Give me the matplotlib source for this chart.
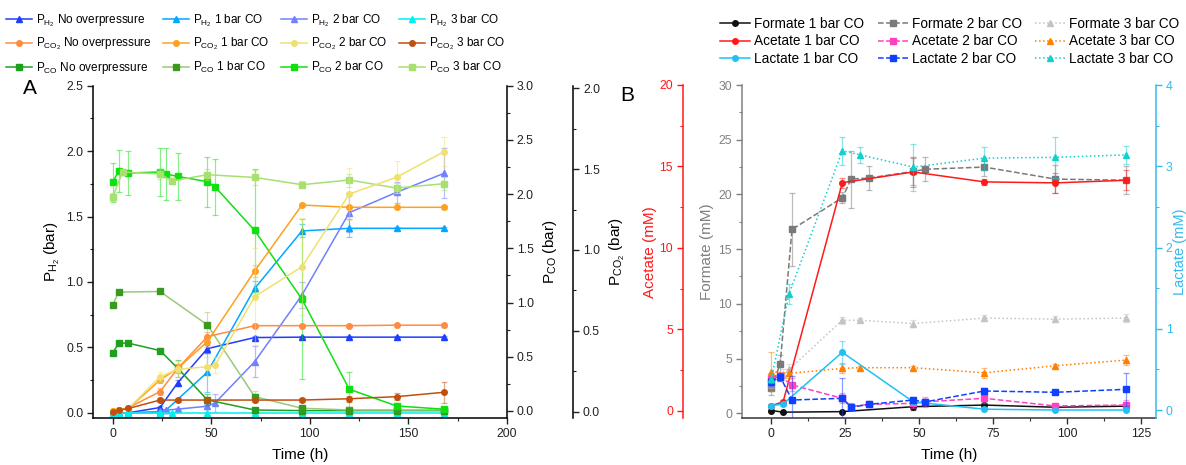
import matplotlib
matplotlib.use('Agg')
import matplotlib.pyplot as plt
from matplotlib.ticker import MultipleLocator, FormatStrFormatter

plt.rcParams['font.family'] = ['Liberation Sans', 'DejaVu Sans']
plt.rcParams['mathtext.fontset'] = 'custom'
plt.rcParams['mathtext.rm'] = 'Liberation Sans'
plt.rcParams['mathtext.it'] = 'Liberation Sans:italic'
plt.rcParams['mathtext.bf'] = 'Liberation Sans:bold'

# ---------------- Panel A data (pressure, bar) ----------------
# P_H2 (left axis)
h2_no_t = [0, 3, 8, 24, 33, 48, 72, 96, 120, 144, 168]
h2_no_v = [0.0, 0.0, 0.0, 0.04, 0.23, 0.49, 0.575, 0.578, 0.578, 0.578, 0.578]
h2_no_e = [0, 0, 0, 0.01, 0.02, 0.03, 0.01, 0.01, 0.01, 0.01, 0.01]

h2_1_t = [0, 3, 8, 24, 27, 48, 72, 96, 120, 144, 168]
h2_1_v = [0.0, 0.0, 0.0, 0.0, 0.02, 0.31, 0.95, 1.39, 1.41, 1.41, 1.41]
h2_1_e = [0, 0, 0, 0, 0.01, 0.15, 0.06, 0.05, 0.07, 0.01, 0.01]

h2_2_t = [0, 3, 8, 24, 27, 33, 48, 52, 72, 96, 120, 144, 168]
h2_2_v = [0.0, 0.0, 0.0, 0.01, 0.02, 0.028, 0.05, 0.076, 0.39, 0.90, 1.53, 1.685, 1.83]
h2_2_e = [0, 0, 0, 0.01, 0.01, 0.01, 0.02, 0.07, 0.12, 0.10, 0.15, 0.08, 0.19]

h2_3_t = [0, 3, 8, 24, 30, 48, 72, 96, 120, 144, 168]
h2_3_v = [0.0, 0.0, 0.0, 0.0, 0.0, 0.0, 0.0, 0.0, 0.0, 0.0, 0.0]
h2_3_e = [0, 0, 0, 0, 0, 0, 0, 0, 0, 0, 0]

# P_CO2 (second right axis)
co2_no_t = [0, 3, 8, 24, 33, 48, 72, 96, 120, 144, 168]
co2_no_v = [0.004, 0.01, 0.025, 0.124, 0.268, 0.464, 0.532, 0.532, 0.532, 0.535, 0.535]
co2_no_e = [0, 0, 0, 0.02, 0.03, 0.03, 0.01, 0.01, 0.01, 0.01, 0.01]

co2_1_t = [0, 3, 8, 24, 33, 48, 72, 96, 120, 144, 168]
co2_1_v = [0.004, 0.01, 0.02, 0.196, 0.268, 0.433, 0.870, 1.278, 1.264, 1.264, 1.264]
co2_1_e = [0, 0, 0, 0.02, 0.03, 0.03, 0.04, 0.01, 0.01, 0.01, 0.01]

co2_2_t = [0, 3, 8, 24, 33, 48, 52, 72, 96, 120, 144, 168]
co2_2_v = [0.0, 0.01, 0.02, 0.216, 0.262, 0.278, 0.289, 0.711, 0.897, 1.346, 1.450, 1.608]
co2_2_e = [0, 0, 0, 0.03, 0.05, 0.06, 0.05, 0.30, 0.30, 0.16, 0.10, 0.09]

co2_3_t = [0, 3, 8, 24, 33, 48, 72, 96, 120, 144, 168]
co2_3_v = [0.0, 0.01, 0.02, 0.072, 0.072, 0.072, 0.072, 0.072, 0.08, 0.093, 0.12]
co2_3_e = [0, 0, 0, 0.01, 0.01, 0.01, 0.01, 0.01, 0.02, 0.02, 0.065]

# P_CO (first right axis)
co_no_t = [0, 3, 8, 24, 33, 48, 72, 96, 120, 144, 168]
co_no_v = [0.533, 0.625, 0.625, 0.557, 0.394, 0.102, 0.009, 0.003, 0.003, 0.003, 0.003]
co_no_e = [0.01, 0.01, 0.01, 0.02, 0.08, 0.05, 0.02, 0.01, 0.01, 0.01, 0.01]

co_1_t = [0, 3, 24, 48, 72, 96, 120, 144, 168]
co_1_v = [0.979, 1.096, 1.102, 0.794, 0.132, 0.025, 0.009, 0.009, 0.009]
co_1_e = [0.01, 0.01, 0.02, 0.12, 0.05, 0.03, 0.01, 0.01, 0.01]

co_2_t = [0, 3, 8, 24, 27, 33, 48, 52, 72, 96, 120, 144, 168]
co_2_v = [2.108, 2.213, 2.195, 2.204, 2.186, 2.163, 2.115, 2.066, 1.665, 1.031, 0.200, 0.046, 0.016]
co_2_e = [0.18, 0.19, 0.20, 0.22, 0.24, 0.22, 0.23, 0.26, 0.57, 0.74, 0.16, 0.03, 0.01]

co_3_t = [0, 5, 24, 30, 48, 72, 96, 120, 144, 168]
co_3_v = [1.973, 2.204, 2.186, 2.121, 2.179, 2.154, 2.087, 2.130, 2.056, 2.096]
co_3_e = [0.04, 0.03, 0.05, 0.03, 0.05, 0.07, 0.03, 0.06, 0.05, 0.06]

# ---------------- Panel B data (mM) ----------------
form_1_t = [0, 4, 24, 48, 72, 96, 120]
form_1_v = [0.25, 0.1, 0.15, 0.6, 0.75, 0.55, 0.65]
form_1_e = [0.1, 0.05, 0.05, 0.3, 0.2, 0.2, 0.2]

form_2_t = [0, 3, 7, 24, 27, 33, 48, 52, 72, 96, 120]
form_2_v = [2.3, 4.5, 16.8, 19.7, 21.4, 21.5, 22.1, 22.3, 22.5, 21.4, 21.3]
form_2_e = [0.6, 0.8, 3.3, 0.5, 2.6, 1.1, 1.2, 1.1, 0.8, 1.3, 1.3]

form_3_t = [0, 4, 6, 24, 30, 48, 72, 96, 120]
form_3_v = [2.8, 3.5, 4.0, 8.5, 8.5, 8.2, 8.7, 8.6, 8.7]
form_3_e = [0.5, 0.5, 0.5, 0.3, 0.2, 0.3, 0.3, 0.3, 0.4]

acet_1_t = [0, 4, 24, 48, 72, 96, 120]
acet_1_v = [0.3, 0.55, 14.0, 14.66, 14.05, 13.99, 14.15]
acet_1_e = [0.1, 0.1, 0.3, 0.9, 0.2, 0.6, 0.6]

acet_2_t = [0, 3, 7, 24, 27, 33, 48, 52, 72, 96, 120]
acet_2_v = [2.0, 2.1, 1.58, 0.76, 0.25, 0.39, 0.45, 0.55, 0.76, 0.29, 0.35]
acet_2_e = [0.3, 0.3, 0.4, 0.3, 0.2, 0.1, 0.3, 0.3, 0.3, 0.2, 0.3]

acet_3_t = [0, 6, 24, 30, 48, 72, 96, 120]
acet_3_v = [2.39, 2.29, 2.6, 2.64, 2.64, 2.33, 2.76, 3.11]
acet_3_e = [1.2, 0.3, 0.3, 0.1, 0.1, 0.3, 0.1, 0.3]

lact_1_t = [0, 4, 24, 48, 72, 96, 120]
lact_1_v = [0.053, 0.074, 0.71, 0.10, 0.01, 0.0, 0.0]
lact_1_e = [0.02, 0.02, 0.14, 0.03, 0.02, 0.01, 0.01]

lact_2_t = [0, 3, 7, 24, 27, 33, 48, 52, 72, 96, 120]
lact_2_v = [0.35, 0.41, 0.123, 0.144, 0.033, 0.07, 0.123, 0.10, 0.234, 0.218, 0.255]
lact_2_e = [0.05, 0.05, 0.3, 0.25, 0.02, 0.02, 0.04, 0.03, 0.04, 0.02, 0.2]

lact_3_t = [0, 6, 24, 30, 48, 72, 96, 120]
lact_3_v = [0.378, 1.43, 3.19, 3.14, 2.99, 3.10, 3.11, 3.14]
lact_3_e = [0.05, 0.12, 0.17, 0.10, 0.29, 0.14, 0.25, 0.11]

H2 = r'P$_{\mathrm{H}_{\mathrm{2}}}$'
CO2 = r'P$_{\mathrm{CO}_{\mathrm{2}}}$'
CO = r'P$_{\mathrm{CO}}$'

W, H = 1186, 465
fig = plt.figure(figsize=(W / 100, H / 100), dpi=100)


def series(ax, t, v, e, color, marker, ls='-', mcolor=None, label=None, ms=4, lw=1.1):
    mc = mcolor if mcolor else color
    ax.errorbar(t, v, yerr=e, fmt='none', ecolor=color, alpha=0.5,
                capsize=2.5, elinewidth=0.9, capthick=0.9)
    ln, = ax.plot(t, v, color=color, ls=ls, lw=lw, marker=marker, ms=ms,
                  mfc=mc, mec=mc, label=label)
    return ln


def style_ticks(ax, which_axis, color, size=8.8):
    ax.tick_params(axis=which_axis, which='both', direction='out', colors=color,
                   labelsize=size, pad=2.5)
    ax.tick_params(axis=which_axis, which='major', length=4.5, width=1.0)
    ax.tick_params(axis=which_axis, which='minor', length=2.5, width=0.8)


# ================ Panel A ================
axA = fig.add_axes([93 / W, 1 - 418 / H, 414 / W, (418 - 85.7) / H])
axA.set_xlim(-10, 200)
axA.set_ylim(-0.04, 2.5)
axCO = axA.twinx()
axCO.set_ylim(-0.065, 3.0)
axCO2 = axA.twinx()
axCO2.set_ylim(-0.039, 2.016)
axCO2.spines['right'].set_position(('axes', 1.16))

for a in (axA, axCO, axCO2):
    a.spines['top'].set_visible(False)
    for s in a.spines.values():
        s.set_linewidth(1.1)
axA.spines['right'].set_visible(False)
axCO.spines['left'].set_visible(False)
axCO2.spines['left'].set_visible(False)
axCO2.spines['bottom'].set_visible(False)
axCO.spines['bottom'].set_visible(False)

c_h2 = ['#1f3cff', '#00a8ff', '#7080ff', '#00f0f0']
c_co2 = ['#ff8c40', '#ffa020', '#f0e070', '#c05010']
c_co = ['#1ea01e', '#9cc87a', '#10e010', '#a8e070']

l_h2 = [
    series(axA, h2_no_t, h2_no_v, h2_no_e, c_h2[0], '^', label=H2 + ' No overpressure'),
    series(axA, h2_1_t, h2_1_v, h2_1_e, c_h2[1], '^', label=H2 + ' 1 bar CO'),
    series(axA, h2_2_t, h2_2_v, h2_2_e, c_h2[2], '^', label=H2 + ' 2 bar CO'),
    series(axA, h2_3_t, h2_3_v, h2_3_e, c_h2[3], '^', label=H2 + ' 3 bar CO'),
]
l_co = [
    series(axCO, co_no_t, co_no_v, co_no_e, c_co[0], 's', label=CO + ' No overpressure'),
    series(axCO, co_1_t, co_1_v, co_1_e, c_co[1], 's', mcolor='#3a9a20', label=CO + ' 1 bar CO'),
    series(axCO, co_2_t, co_2_v, co_2_e, c_co[2], 's', label=CO + ' 2 bar CO'),
    series(axCO, co_3_t, co_3_v, co_3_e, c_co[3], 's', label=CO + ' 3 bar CO'),
]
l_co2 = [
    series(axCO2, co2_no_t, co2_no_v, co2_no_e, c_co2[0], 'o', label=CO2 + ' No overpressure'),
    series(axCO2, co2_1_t, co2_1_v, co2_1_e, c_co2[1], 'o', label=CO2 + ' 1 bar CO'),
    series(axCO2, co2_2_t, co2_2_v, co2_2_e, c_co2[2], 'o', label=CO2 + ' 2 bar CO'),
    series(axCO2, co2_3_t, co2_3_v, co2_3_e, c_co2[3], 'o', label=CO2 + ' 3 bar CO'),
]

axA.xaxis.set_major_locator(MultipleLocator(50))
axA.xaxis.set_minor_locator(MultipleLocator(25))
for a in (axA, axCO, axCO2):
    a.yaxis.set_major_locator(MultipleLocator(0.5))
    a.yaxis.set_minor_locator(MultipleLocator(0.25))
    a.yaxis.set_major_formatter(FormatStrFormatter('%.1f'))
for a, ax_ in ((axA, 'x'), (axA, 'y'), (axCO, 'y'), (axCO2, 'y')):
    style_ticks(a, ax_, '#222222')

axA.set_xlabel('Time (h)', fontsize=11, labelpad=6)
axA.set_ylabel(H2 + ' (bar)', fontsize=11)
axA.yaxis.set_label_coords(-0.075, 0.5)
axCO.set_ylabel(CO + ' (bar)', fontsize=11)
axCO.yaxis.set_label_coords(1.082, 0.5)
axCO2.set_ylabel(CO2 + ' (bar)', fontsize=11)
axCO2.yaxis.set_label_coords(1.244, 0.5)

fig.text(23 / W, 1 - 88 / H, 'A', fontsize=15, va='center', ha='left')

handlesA = []
for i in range(4):
    handlesA += [l_h2[i], l_co2[i], l_co[i]]
fig.legend(handles=handlesA, labels=[h.get_label() for h in handlesA],
           loc='upper left', bbox_to_anchor=(6 / W, 1 - 12 / H), ncol=4,
           frameon=False, fontsize=8.5, handlelength=2.2, handletextpad=0.35,
           columnspacing=0.95, labelspacing=0.62, borderpad=0, borderaxespad=0,
           numpoints=1)

# ================ Panel B ================
axB = fig.add_axes([741.7 / W, 1 - 418.3 / H, (1156 - 741.7) / W, (418.3 - 85) / H])
axB.set_xlim(-10, 130)
axB.set_ylim(-0.46, 30)
axAc = axB.twinx()
axAc.set_ylim(-0.467, 20)
axLa = axB.twinx()
axLa.set_ylim(-0.102, 4)

c_gray = '#808080'
c_red = '#ff1a1a'
c_lac = '#33bbee'

axB.spines['top'].set_visible(False)
axB.spines['right'].set_visible(False)
axB.spines['left'].set_color(c_gray)
axB.spines['bottom'].set_color('#333333')
for s in ('top', 'bottom', 'right'):
    axAc.spines[s].set_visible(False)
axAc.spines['left'].set_visible(True)
axAc.spines['left'].set_position(('axes', -0.1424))
axAc.spines['left'].set_color(c_red)
axAc.yaxis.set_label_position('left')
axAc.yaxis.set_ticks_position('left')
for s in ('top', 'bottom', 'left'):
    axLa.spines[s].set_visible(False)
axLa.spines['right'].set_color(c_lac)
for a in (axB, axAc, axLa):
    for s in a.spines.values():
        s.set_linewidth(1.1)

l_form = [
    series(axB, form_1_t, form_1_v, form_1_e, '#111111', 'o', '-', label='Formate 1 bar CO'),
    series(axB, form_2_t, form_2_v, form_2_e, '#7a7a7a', 's', '--', label='Formate 2 bar CO'),
    series(axB, form_3_t, form_3_v, form_3_e, '#c4c4c4', '^', ':', label='Formate 3 bar CO'),
]
l_acet = [
    series(axAc, acet_1_t, acet_1_v, acet_1_e, '#ff1a1a', 'o', '-', label='Acetate 1 bar CO'),
    series(axAc, acet_2_t, acet_2_v, acet_2_e, '#ff40c0', 's', '--', label='Acetate 2 bar CO'),
    series(axAc, acet_3_t, acet_3_v, acet_3_e, '#ff8000', '^', ':', label='Acetate 3 bar CO'),
]
l_lact = [
    series(axLa, lact_1_t, lact_1_v, lact_1_e, '#20c0f5', 'o', '-', label='Lactate 1 bar CO'),
    series(axLa, lact_2_t, lact_2_v, lact_2_e, '#1040ff', 's', '--', label='Lactate 2 bar CO'),
    series(axLa, lact_3_t, lact_3_v, lact_3_e, '#10d0d0', '^', ':', label='Lactate 3 bar CO'),
]

axB.xaxis.set_major_locator(MultipleLocator(25))
axB.xaxis.set_minor_locator(MultipleLocator(12.5))
axB.yaxis.set_major_locator(MultipleLocator(5))
axB.yaxis.set_minor_locator(MultipleLocator(2.5))
axAc.yaxis.set_major_locator(MultipleLocator(5))
axAc.yaxis.set_minor_locator(MultipleLocator(2.5))
axLa.yaxis.set_major_locator(MultipleLocator(1))
axLa.yaxis.set_minor_locator(MultipleLocator(0.5))
style_ticks(axB, 'x', '#333333')
style_ticks(axB, 'y', c_gray)
style_ticks(axAc, 'y', c_red)
style_ticks(axLa, 'y', c_lac)
axB.tick_params(axis='x', labelcolor='#222222')

axB.set_xlabel('Time (h)', fontsize=11, labelpad=6)
axB.set_ylabel('Formate (mM)', fontsize=11, color=c_gray)
axB.yaxis.set_label_coords(-0.067, 0.5)
axAc.set_ylabel('Acetate (mM)', fontsize=11, color=c_red)
axAc.yaxis.set_label_coords(-0.204, 0.5)
axLa.set_ylabel('Lactate (mM)', fontsize=10.5, color=c_lac, rotation=90)
axLa.yaxis.set_label_coords(1.042, 0.5)

fig.text(620 / W, 1 - 95 / H, 'B', fontsize=15, va='center', ha='left')

handlesB = []
for i in range(3):
    handlesB += [l_form[i], l_acet[i], l_lact[i]]
fig.legend(handles=handlesB, labels=[h.get_label() for h in handlesB],
           loc='upper left', bbox_to_anchor=(720 / W, 1 - 17 / H), ncol=3,
           frameon=False, fontsize=9.8, handlelength=2.2, handletextpad=0.3,
           columnspacing=1.0, labelspacing=0.25, borderpad=0, borderaxespad=0,
           numpoints=1)

fig.savefig('out.png', dpi=100)
